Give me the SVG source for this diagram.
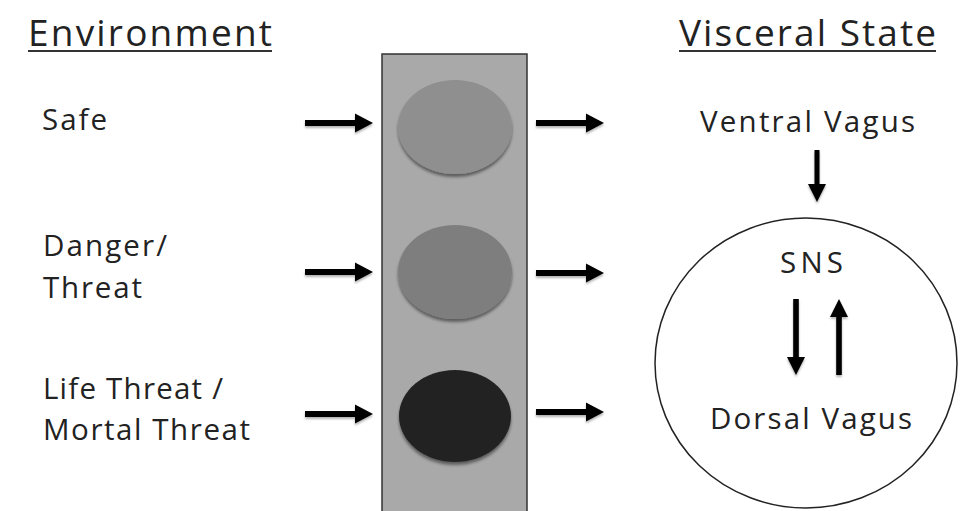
<svg xmlns="http://www.w3.org/2000/svg" width="960" height="511" viewBox="0 0 960 511">
  <defs>
    <style>
      .t { font-family: "Open Sans", "Noto Sans", sans-serif; fill: #222; }
      .head { font-size: 37px; }
      .lbl { font-size: 29.5px; }
      .uline { stroke: #333; stroke-width: 2; }
      .arr { fill: #000; }
    </style>
    <filter id="shadow" x="-20%" y="-20%" width="140%" height="150%">
      <feDropShadow dx="0" dy="3" stdDeviation="1.6" flood-color="#000" flood-opacity="0.45"/>
    </filter>
    <filter id="soft" x="-20%" y="-40%" width="140%" height="200%">
      <feDropShadow dx="0" dy="2" stdDeviation="1.2" flood-color="#000" flood-opacity="0.3"/>
    </filter>
    <!-- horizontal block arrow, tip at origin, pointing right -->
    <path id="harrow" d="M-68,-3 L-18,-3 L-18,-9.5 L0,0 L-18,9.5 L-18,3 L-68,3 Z"/>
    <!-- vertical block arrow, tip at origin, pointing down -->
    <path id="varrow" d="M-2.8,-76 L2.8,-76 L2.8,-18 L9,-18 L0,0 L-9,-18 L-2.8,-18 Z"/>
  </defs>

  <rect width="960" height="511" fill="#fff"/>

  <!-- column headings -->
  <g id="heading-environment">
    <text class="t head" x="28" y="46" textLength="244" lengthAdjust="spacing">Environment</text>
    <line class="uline" x1="28" y1="51" x2="272" y2="51"/>
  </g>
  <g id="heading-visceral">
    <text class="t head" x="679" y="46" textLength="257" lengthAdjust="spacing">Visceral State</text>
    <line class="uline" x1="679" y1="51" x2="936" y2="51"/>
  </g>

  <!-- environment labels -->
  <g id="env-safe">
    <text class="t lbl" x="42" y="130" textLength="65" lengthAdjust="spacing">Safe</text>
  </g>
  <g id="env-danger">
    <text class="t lbl" x="43" y="256" textLength="124" lengthAdjust="spacing">Danger/</text>
    <text class="t lbl" x="43" y="298" textLength="99" lengthAdjust="spacing">Threat</text>
  </g>
  <g id="env-life">
    <text class="t lbl" x="43" y="399" textLength="180" lengthAdjust="spacing">Life Threat /</text>
    <text class="t lbl" x="43" y="440" textLength="207" lengthAdjust="spacing">Mortal Threat</text>
  </g>

  <!-- traffic light -->
  <g id="signal">
    <rect x="382" y="54" width="145" height="470" fill="#a9a9a9" stroke="#333" stroke-width="1.5"/>
    <ellipse id="light-safe" cx="455" cy="127" rx="57" ry="47" fill="#8f8f8f" filter="url(#shadow)"/>
    <ellipse id="light-danger" cx="455" cy="272" rx="57" ry="47" fill="#7e7e7e" filter="url(#shadow)"/>
    <ellipse id="light-life" cx="455" cy="416" rx="56" ry="46" fill="#222" filter="url(#shadow)"/>
  </g>

  <!-- visceral state nodes -->
  <g id="ventral-vagus">
    <text class="t lbl" x="700" y="132" textLength="215" lengthAdjust="spacing">Ventral Vagus</text>
  </g>
  <g id="autonomic-circle">
    <ellipse cx="806" cy="363" rx="151" ry="145" fill="#fff" stroke="#222" stroke-width="1.5"/>
  </g>
  <g id="sns">
    <text class="t lbl" x="780" y="273" textLength="63" lengthAdjust="spacing">SNS</text>
  </g>
  <g id="dorsal-vagus">
    <text class="t lbl" x="710" y="429" textLength="202" lengthAdjust="spacing">Dorsal Vagus</text>
  </g>

  <!-- connectors -->
  <g id="connectors" class="arr" filter="url(#soft)">
    <use href="#harrow" x="373" y="123"/>
    <use href="#harrow" x="373" y="272"/>
    <use href="#harrow" x="373" y="414"/>
    <use href="#harrow" x="604" y="123"/>
    <use href="#harrow" x="604" y="273"/>
    <use href="#harrow" x="604" y="412"/>
    <path d="M814.5,150 L819.5,150 L819.5,184 L826,184 L817,202 L808,184 L814.5,184 Z"/>
    <use href="#varrow" x="796" y="375"/>
    <use href="#varrow" transform="translate(839,299) rotate(180)"/>
  </g>
</svg>
